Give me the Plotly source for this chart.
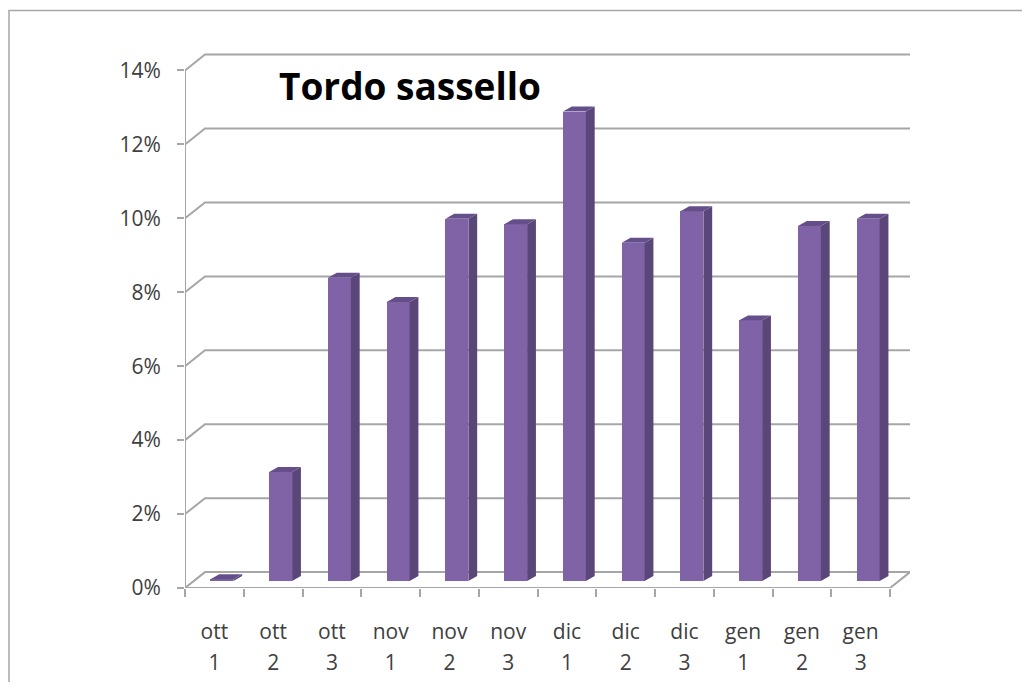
import plotly.graph_objects as go

# ---- data ----
months = ["ott", "ott", "ott", "nov", "nov", "nov", "dic", "dic", "dic", "gen", "gen", "gen"]
decades = ["1", "2", "3", "1", "2", "3", "1", "2", "3", "1", "2", "3"]
values = [0.05, 2.95, 8.2, 7.55, 9.8, 9.65, 12.7, 9.15, 10.0, 7.05, 9.6, 9.8]  # percent
y_ticks = [0, 2, 4, 6, 8, 10, 12, 14]
title_text = "Tordo sassello"

# ---- pseudo-3D geometry (in axis units) ----
DX, DY = 0.34, 0.43          # depth of back wall
BAR_OFF, BAR_W = 0.128, 0.39  # front face offset / width
BAR_BASE = 0.19               # bars stand at mid-depth of floor
BDX, BDY = 0.15, 0.135        # bar depth
X0 = -0.5
X1 = len(values) - 0.5
XMAX = X1 + DX

GRID = "#A6A6A6"
FRONT = "#7F63A6"
SIDE = "#5A4679"
TOP = "#654F8A"

# page body has an 8px default margin: compensate and keep the figure inside the window
OFF = 8
W, H = 1030 - 2 * OFF, 690 - 2 * OFF
L, R = 185 - OFF, 910 - OFF
T, B = 51.5 - OFF, 588 - OFF

fig = go.Figure()

# back wall gridlines, floor, front axis line as shapes below the traces
shapes = []
def seg(xs_, ys_):
    p = "M " + " L ".join(f"{a},{b}" for a, b in zip(xs_, ys_))
    shapes.append(dict(type="path", xref="x", yref="y", path=p,
                       line=dict(color=GRID, width=2), layer="below"))

for v in y_ticks:
    seg([X0, X0 + DX, XMAX], [v, v + DY, v + DY])
seg([X0, X1, XMAX], [0, 0, DY])
seg([X0, X0], [0, y_ticks[-1]])

# frame around the chart (only top and left edges are visible)
fx0 = (1 - L) / (R - L)
fx1 = (W + 20 - L) / (R - L)
fy0 = (B - (H + 20)) / (B - T)
fy1 = (B - (10 - OFF)) / (B - T)
shapes.append(dict(type="path", xref="paper", yref="paper",
                   path=f"M {fx1},{fy1} L {fx0},{fy1} L {fx0},{fy0}",
                   line=dict(color="#A6A6A6", width=1.5), layer="below"))

xs = list(range(len(values)))
# front faces
fig.add_trace(go.Bar(x=[i + BAR_OFF for i in xs], y=values, base=BAR_BASE, width=BAR_W,
                     marker=dict(color=FRONT, line=dict(width=0)), showlegend=False))

# side faces and top faces
sx, sy, tx, ty = [], [], [], []
for i, v in zip(xs, values):
    xl = i + BAR_OFF - BAR_W / 2
    xr = i + BAR_OFF + BAR_W / 2
    b = BAR_BASE
    t = BAR_BASE + v
    sx += [xr, xr + BDX, xr + BDX, xr, xr, None]
    sy += [b, b + BDY, t + BDY, t, b, None]
    tx += [xl, xl + BDX, xr + BDX, xr, xl, None]
    ty += [t, t + BDY, t + BDY, t, t, None]
fig.add_trace(go.Scatter(x=sx, y=sy, mode="lines", fill="toself", fillcolor=SIDE,
                         line=dict(width=0, color=SIDE), hoverinfo="skip", showlegend=False))
fig.add_trace(go.Scatter(x=tx, y=ty, mode="lines", fill="toself", fillcolor=TOP,
                         line=dict(width=0, color=TOP), hoverinfo="skip", showlegend=False))

# invisible traces for label axes
fig.add_trace(go.Scatter(x=xs, y=[None] * len(xs), xaxis="x2", showlegend=False, hoverinfo="skip"))
fig.add_trace(go.Scatter(x=xs, y=[None] * len(xs), xaxis="x3", showlegend=False, hoverinfo="skip"))

font_fam = "Open Sans"
tick_font = dict(family=font_fam, size=21, color="#404040")
xr_ = [X0, XMAX]

fig.update_layout(
    width=W, height=H,
    margin=dict(l=L, r=W - R, t=T, b=H - B, autoexpand=False),
    paper_bgcolor="white", plot_bgcolor="rgba(0,0,0,0)",
    bargap=0,
    title=dict(text="<b>" + title_text + "</b>", font=dict(family=font_fam, size=37, color="black"),
               xref="container", yref="container", x=(279 - OFF) / W, xanchor="left",
               y=1 - (87 - OFF) / H, yanchor="middle", automargin=False),
    xaxis=dict(range=xr_, showgrid=False, zeroline=False, showline=False, automargin=False,
               tickvals=[k - 0.5 for k in range(len(values) + 1)], showticklabels=False,
               ticks="outside", ticklen=8, tickwidth=2, tickcolor=GRID),
    xaxis2=dict(range=xr_, overlaying="x", side="bottom", anchor="y", showgrid=False, zeroline=False,
                showline=False, automargin=False, tickvals=xs, ticktext=months, ticks="",
                tickfont=tick_font, ticklabelstandoff=29),
    xaxis3=dict(range=xr_, overlaying="x", side="bottom", anchor="y", showgrid=False, zeroline=False,
                showline=False, automargin=False, tickvals=xs, ticktext=decades, ticks="",
                tickfont=tick_font, ticklabelstandoff=60),
    yaxis=dict(range=[0, 14.5], showgrid=False, zeroline=False, showline=False, automargin=False,
               tickvals=y_ticks, ticktext=[f"{v}%" for v in y_ticks],
               ticks="outside", ticklen=7, tickwidth=2, tickcolor=GRID,
               tickfont=tick_font, ticklabelstandoff=12),
    shapes=shapes,
)

fig.write_html("out.html")
